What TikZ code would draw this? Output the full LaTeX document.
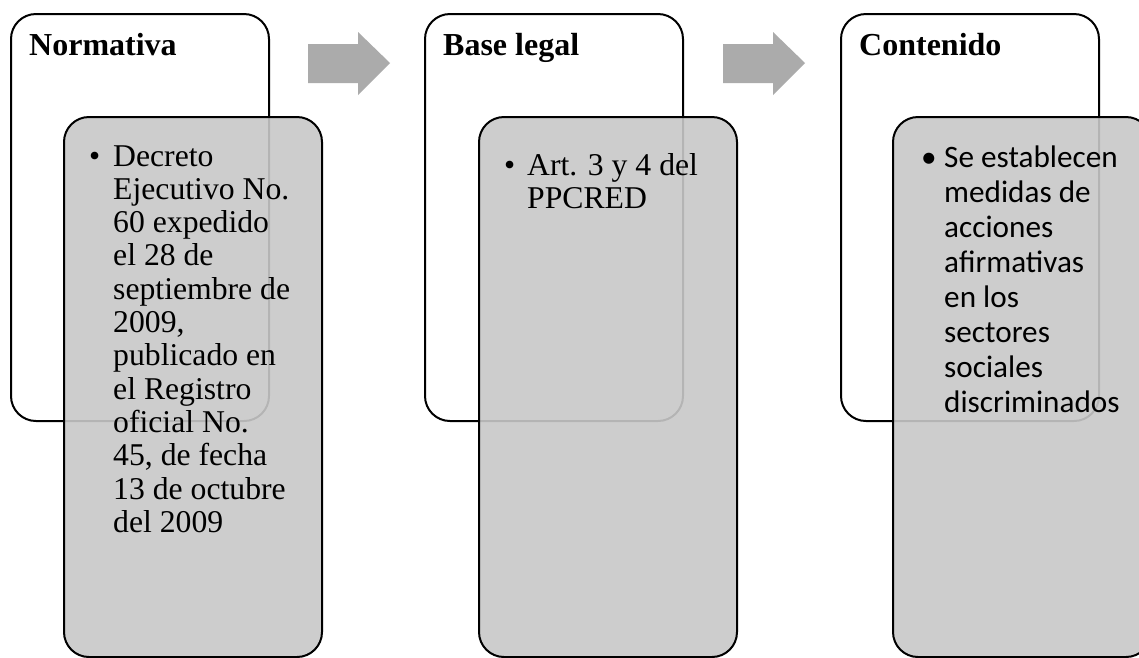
\documentclass[tikz,border=0pt]{standalone}
\usepackage{fontspec}
\setmainfont{Liberation Serif}
\newfontfamily\calib{Carlito}
\definecolor{greyfill}{RGB}{200,200,200}
\definecolor{arrowgrey}{RGB}{171,171,171}
\newcommand\bodyfont{\fontsize{31.7}{33.3}\selectfont}
\newcommand\calfont{\calib\fontsize{31.2}{35}\selectfont}
\begin{document}
\begin{tikzpicture}[x=1pt,y=-1pt,
  outerbox/.style={draw=black, line width=2pt, rounded corners=25pt, fill=white,
    minimum width=258pt, minimum height=407pt, anchor=north west, inner sep=0pt},
  innerbox/.style={draw=black, line width=2pt, rounded corners=25pt, fill=greyfill,
    fill opacity=0.9, draw opacity=1, minimum width=258pt, minimum height=540pt,
    anchor=north west, inner sep=0pt},
  heading/.style={anchor=base west, inner sep=0pt, font=\bfseries\fontsize{32}{33}\selectfont},
  bodytext/.style={anchor=base west, inner sep=0pt, align=left},
  flowarrow/.style={fill=arrowgrey, draw=none}
]
\useasboundingbox (0,0) rectangle (1139,657);
\clip (0,0) rectangle (1139,657);
\fill[white] (0,0) rectangle (1139,657);

% boxes
\node[outerbox] (w1) at (10,13) {};
\node[innerbox] (g1) at (63,116) {};
\node[outerbox] (w2) at (424,13) {};
\node[innerbox] (g2) at (478,116) {};
\node[outerbox] (w3) at (840,13) {};
\node[innerbox] (g3) at (892,116) {};

% arrows
\fill[flowarrow] (308,44) -- (358,44) -- (358,32) -- (390,63) -- (358,95) -- (358,83) -- (308,83) -- cycle;
\fill[flowarrow] (723,44) -- (773,44) -- (773,32) -- (805,63) -- (773,95) -- (773,83) -- (723,83) -- cycle;

% headings
\node[heading] (h1) at (29,55) {Normativa};
\node[heading] (h2) at (443,55) {Base legal};
\node[heading] (h3) at (859,55) {Contenido};

% box 1 text
\node[bodytext] (b1) at (89,166) {\bodyfont •};
\node[bodytext] (t1) at (113,166) {\bodyfont\vtop{\hbox{Decreto}\hbox{Ejecutivo No.}\hbox{60 expedido}\hbox{el 28 de}\hbox{septiembre de}\hbox{2009,}\hbox{publicado en}\hbox{el Registro}\hbox{oficial No.}\hbox{45, de fecha}\hbox{13 de octubre}\hbox{del 2009}}};

% box 2 text
\node[bodytext] (b2) at (504,175) {\bodyfont •};
\node[bodytext] (t2) at (527,175) {\bodyfont\vtop{\hbox{Art. 3 y 4 del}\hbox{PPCRED}}};

% box 3 text
\node[bodytext] (b3) at (921,167) {\calfont •};
\node[bodytext] (t3) at (944,167) {\calfont\vtop{\hbox{Se establecen}\hbox{medidas de}\hbox{acciones}\hbox{afirmativas}\hbox{en los}\hbox{sectores}\hbox{sociales}\hbox{discriminados}}};
\end{tikzpicture}
\end{document}
